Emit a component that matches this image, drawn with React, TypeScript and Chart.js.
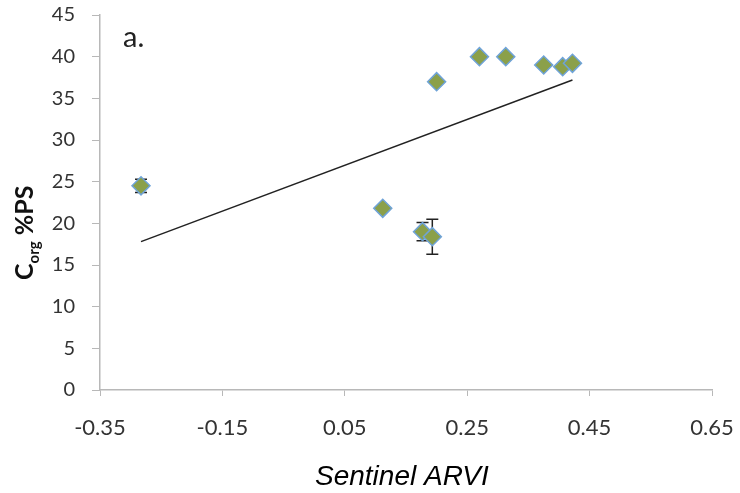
import React, { useEffect, useRef } from "react";
import { Chart, registerables } from "chart.js";

Chart.register(...registerables);

const ARVI = [-0.283, 0.112, 0.177, 0.193, 0.2, 0.27, 0.313, 0.375, 0.406, 0.422];
const CORG = [24.5, 21.8, 19.0, 18.4, 37.0, 40.0, 40.0, 39.0, 38.8, 39.2];
const CORG_ERR = [0.8, 0, 1.1, 2.1, 0, 0, 0, 0, 0, 0];
const TREND_X = [-0.283, 0.422];
const TREND_Y = [17.8, 37.2];
const X_TICKS = [-0.35, -0.15, 0.05, 0.25, 0.45, 0.65];

const errorBars = {
  id: "errorBars",
  beforeDatasetsDraw(chart: any) {
    const ctx = chart.ctx;
    const xs = chart.scales.x;
    const ys = chart.scales.y;
    ctx.save();
    ctx.strokeStyle = "#222";
    ctx.lineWidth = 1.5;
    ARVI.forEach((xv, i) => {
      const e = CORG_ERR[i];
      if (!e) return;
      const px = xs.getPixelForValue(xv);
      const top = ys.getPixelForValue(CORG[i] + e);
      const bot = ys.getPixelForValue(CORG[i] - e);
      ctx.beginPath();
      ctx.moveTo(px, top);
      ctx.lineTo(px, bot);
      ctx.moveTo(px - 6, top);
      ctx.lineTo(px + 6, top);
      ctx.moveTo(px - 6, bot);
      ctx.lineTo(px + 6, bot);
      ctx.stroke();
    });
    ctx.restore();
  },
};

const titles = {
  id: "titles",
  afterDraw(chart: any) {
    const ctx = chart.ctx;
    ctx.save();
    // x title
    ctx.fillStyle = "#000";
    ctx.font = "italic 28px 'Liberation Sans', Arial, sans-serif";
    ctx.textAlign = "left";
    ctx.textBaseline = "alphabetic";
    ctx.fillText("Sentinel ARVI", 315, 485);
    // panel label
    ctx.font = "29px Lato, sans-serif";
    ctx.fillStyle = "#222";
    ctx.fillText("a.", 123, 47);
    // y title with subscript
    ctx.translate(0, 280);
    ctx.rotate(-Math.PI / 2);
    ctx.fillStyle = "#111";
    const big = "bold 25px Lato, sans-serif";
    const small = "bold 15px Lato, sans-serif";
    let x = 0;
    ctx.font = big;
    ctx.fillText("C", x, 33);
    x += ctx.measureText("C").width;
    ctx.font = small;
    ctx.fillText("org", x, 39);
    x += ctx.measureText("org").width;
    ctx.font = big;
    ctx.fillText(" %PS", x, 33);
    ctx.restore();
  },
};

export default function App() {
  const ref = useRef<HTMLCanvasElement>(null);
  useEffect(() => {
    document.body.style.margin = "0";
    const chart = new Chart(ref.current!, {
      type: "scatter",
      data: {
        datasets: [
          {
            type: "line",
            data: TREND_X.map((x, i) => ({ x, y: TREND_Y[i] })),
            borderColor: "#222",
            borderWidth: 1.5,
            pointRadius: 0,
            fill: false,
          } as any,
          {
            data: ARVI.map((x, i) => ({ x, y: CORG[i] })),
            pointStyle: "rectRot",
            pointRadius: 9,
            backgroundColor: "#8ba04a",
            borderColor: "#6fa3d8",
            borderWidth: 1.5,
          },
        ],
      },
      options: {
        responsive: false,
        animation: false,
        layout: { padding: { top: 15, right: 28, left: 0, bottom: 0 } },
        plugins: { legend: { display: false }, tooltip: { enabled: false } },
        scales: {
          x: {
            type: "linear",
            min: -0.35,
            max: 0.65,
            afterBuildTicks: (s: any) => {
              s.ticks = X_TICKS.map((v) => ({ value: v }));
            },
            afterFit: (s: any) => {
              s.height = 103;
              s.paddingLeft = 0;
              s.paddingRight = 0;
            },
            ticks: {
              callback: (v: any) => Number(v).toFixed(2),
              color: "#333",
              font: { family: "Lato, sans-serif", size: 22 },
              padding: 19,
              maxRotation: 0,
            },
            grid: {
              drawOnChartArea: false,
              color: "#b8b8b8",
              tickLength: 6,
            },
            border: { color: "#b8b8b8", width: 1.5 },
          },
          y: {
            min: 0,
            max: 45,
            ticks: {
              stepSize: 5,
              color: "#333",
              font: { family: "Lato, sans-serif", size: 20 },
              padding: 17,
            },
            afterFit: (s: any) => {
              s.width = 100;
              s.paddingTop = 0;
              s.paddingBottom = 0;
            },
            grid: {
              drawOnChartArea: false,
              color: "#b8b8b8",
              tickLength: 8,
            },
            border: { color: "#b8b8b8", width: 1.5 },
          },
        },
      },
      plugins: [errorBars, titles],
    });
    return () => chart.destroy();
  }, []);
  return (
    <div style={{ position: "absolute", left: 0, top: 0, width: 740, height: 493, background: "#fff" }}>
      <canvas ref={ref} width={740} height={493} />
    </div>
  );
}
